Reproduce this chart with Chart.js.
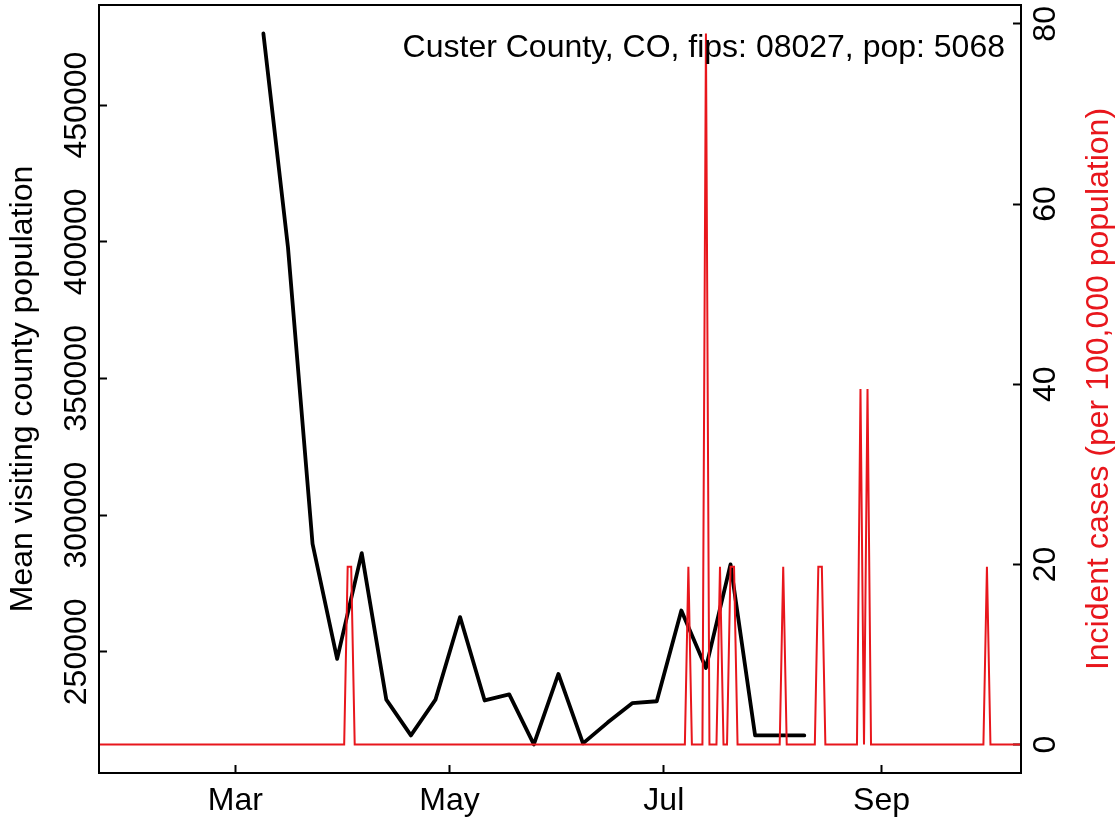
<!DOCTYPE html>
<html>
<head>
<meta charset="utf-8">
<script src="https://cdn.jsdelivr.net/npm/chart.js@4.4.1/dist/chart.umd.min.js"></script>
<style>
  body { margin: 0; background: #fff; }
  #wrap { width: 1119px; height: 822px; }
</style>
</head>
<body>
<div id="wrap"><canvas id="line-chart" width="1119" height="822"></canvas></div>
<script>
// days are counted from 1 March 2020
var visitDays = [8, 15, 22, 29, 36, 43, 50, 57, 64, 71, 78, 85, 92, 99, 106, 113, 120, 127, 134, 141, 148, 155, 162];
var visitValues = [476200, 398000, 289500, 247400, 286100, 232500, 219400, 232500, 262700, 232200, 234400, 216100,
    241900, 216500, 224100, 231200, 231900, 265100, 244100, 282000, 219400, 219400, 219400];

// incident cases per 100,000, zero on every other reported day
var caseFirstDay = -40;
var caseLastDay = 226;
var caseDays = [32, 33, 129, 134, 138, 141, 142, 156, 166, 167, 178, 180, 214];
var caseRates = [19.73, 19.73, 19.73, 78.93, 19.73, 19.73, 19.73, 19.73, 19.73, 19.73, 39.46, 39.46, 19.73];

var xTickDays = [0, 61, 122, 184];
var xTickLabels = ['Mar', 'May', 'Jul', 'Sep'];
var leftTicks = [250000, 300000, 350000, 400000, 450000];
var rightTicks = [0, 20, 40, 60, 80];

var countyLabel = 'Custer County, CO, fips: 08027, pop: 5068';
var leftTitle = 'Mean visiting county population';
var rightTitle = 'Incident cases (per 100,000 population)';

var FONT = "'Liberation Sans', Arial, Helvetica, sans-serif";
var FONT_SIZE = 32;
var RED = '#e8161c';

function textWidth(str) {
    var c = document.createElement('canvas').getContext('2d');
    c.font = FONT_SIZE + 'px ' + FONT;
    return c.measureText(str).width;
}

function buildCasePoints() {
    var pts = [];
    for (var d = caseFirstDay; d <= caseLastDay; d++) {
        var k = caseDays.indexOf(d);
        pts.push({ x: d, y: k >= 0 ? caseRates[k] : 0 });
    }
    return pts;
}

var visitPoints = visitDays.map(function (d, i) {
    return { x: d, y: visitValues[i] };
});

// rotated tick labels are centred by chart.js using the unrotated width
var leftPad = 30 - textWidth('450000') / 2;
var rightPad = 33 - textWidth('80') / 2;

// fixed axis sizes, and no extra room reserved for overhanging labels
function fixSize(w, h) {
    return function (s) {
        if (w) s.width = w;
        if (h) s.height = h;
        s.paddingTop = 0;
        s.paddingBottom = 0;
        s.paddingLeft = 0;
        s.paddingRight = 0;
    };
}

var boxPlugin = {
    id: 'box',
    afterDraw: function (chart) {
        var ctx = chart.ctx;
        var a = chart.chartArea;
        ctx.save();
        ctx.strokeStyle = '#000';
        ctx.lineWidth = 2;
        ctx.strokeRect(a.left, a.top, a.right - a.left, a.bottom - a.top);

        ctx.font = FONT_SIZE + 'px ' + FONT;
        ctx.fillStyle = '#000';
        ctx.textAlign = 'right';
        ctx.textBaseline = 'alphabetic';
        ctx.fillText(countyLabel, 1005, 56.5);

        ctx.translate(1099, (a.top + a.bottom) / 2);
        ctx.rotate(-Math.PI / 2);
        ctx.fillStyle = RED;
        ctx.textAlign = 'center';
        ctx.textBaseline = 'middle';
        ctx.fillText(rightTitle, 0, 0);
        ctx.restore();
    }
};

var tickGrid = {
    drawOnChartArea: false,
    drawTicks: true,
    tickLength: -8,
    tickWidth: 2,
    color: '#000'
};

var canvas = document.getElementById('line-chart');
var chart = new Chart(canvas.getContext('2d'), {
    type: 'line',
    data: {
        datasets: [
            {
                label: 'cases',
                data: buildCasePoints(),
                yAxisID: 'y1',
                borderColor: RED,
                borderWidth: 2,
                pointRadius: 0,
                tension: 0,
                order: 0
            },
            {
                label: 'visits',
                data: visitPoints,
                yAxisID: 'y',
                borderColor: '#000',
                borderWidth: 3.8,
                borderJoinStyle: 'round',
                borderCapStyle: 'round',
                pointRadius: 0,
                tension: 0,
                order: 1
            }
        ]
    },
    options: {
        responsive: false,
        animation: false,
        layout: { padding: { top: 5, left: 0, right: 0, bottom: 0 } },
        plugins: {
            legend: { display: false },
            tooltip: { enabled: false }
        },
        scales: {
            x: {
                type: 'linear',
                position: 'bottom',
                min: -38.8,
                max: 223.7,
                afterBuildTicks: function (s) {
                    s.ticks = xTickDays.map(function (v) { return { value: v }; });
                },
                afterFit: fixSize(0, 49),
                border: { display: false },
                grid: tickGrid,
                ticks: {
                    autoSkip: false,
                    maxRotation: 0,
                    padding: 17,
                    color: '#000',
                    font: { family: FONT, size: FONT_SIZE },
                    callback: function (v) { return xTickLabels[xTickDays.indexOf(v)]; }
                }
            },
            y: {
                type: 'linear',
                position: 'left',
                min: 205657,
                max: 486620,
                afterBuildTicks: function (s) {
                    s.ticks = leftTicks.map(function (v) { return { value: v }; });
                },
                afterFit: fixSize(99, 0),
                border: { display: false },
                grid: tickGrid,
                title: {
                    display: true,
                    text: leftTitle,
                    color: '#000',
                    padding: { top: 4, bottom: 0 },
                    font: { family: FONT, size: FONT_SIZE }
                },
                ticks: {
                    minRotation: 90,
                    maxRotation: 90,
                    crossAlign: 'center',
                    padding: leftPad,
                    autoSkip: false,
                    color: '#000',
                    font: { family: FONT, size: FONT_SIZE },
                    callback: function (v) { return String(v); }
                }
            },
            y1: {
                type: 'linear',
                position: 'right',
                min: -3.157,
                max: 82.09,
                afterBuildTicks: function (s) {
                    s.ticks = rightTicks.map(function (v) { return { value: v }; });
                },
                afterFit: fixSize(98, 0),
                border: { display: false },
                grid: tickGrid,
                ticks: {
                    minRotation: 90,
                    maxRotation: 90,
                    crossAlign: 'center',
                    padding: rightPad,
                    autoSkip: false,
                    color: '#000',
                    font: { family: FONT, size: FONT_SIZE },
                    callback: function (v) { return String(v); }
                }
            }
        }
    },
    plugins: [boxPlugin]
});
</script>
</body>
</html>
